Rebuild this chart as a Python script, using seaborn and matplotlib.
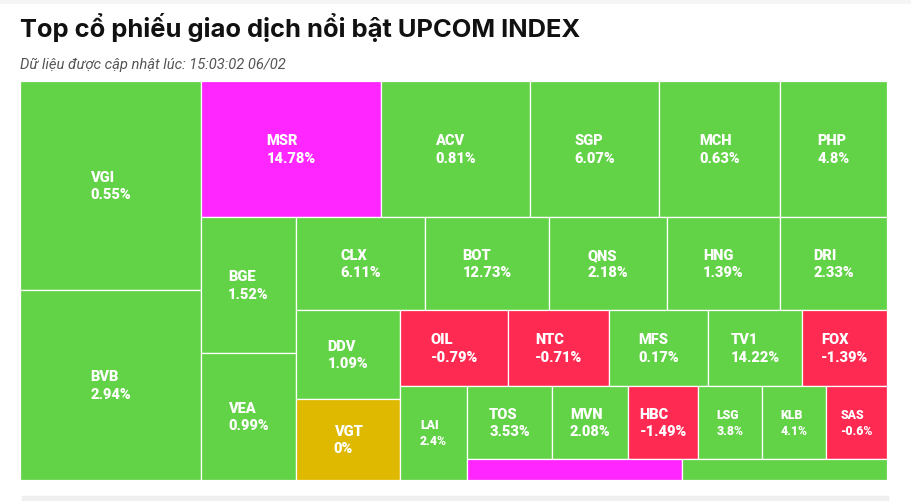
import matplotlib
matplotlib.use("Agg")
import matplotlib.pyplot as plt
from matplotlib.patches import Rectangle
import seaborn as sns

# Style
sns.set_theme(style="white")
plt.rcParams['font.family'] = ['Roboto', 'DejaVu Sans']

# Data (trading value weights)
tickers = ['VGI', 'BVB', 'MSR', 'ACV', 'SGP', 'MCH', 'PHP', 'BGE', 'VEA', 'CLX',
           'BOT', 'QNS', 'HNG', 'DRI', 'DDV', 'VGT', 'OIL', 'NTC', 'MFS', 'TV1',
           'FOX', 'LAI', 'TOS', 'MVN', 'HBC', 'LSG', 'KLB', 'SAS', '', '']
changes = [0.55, 2.94, 14.78, 0.81, 6.07, 0.63, 4.8, 1.52, 0.99, 6.11,
           12.73, 2.18, 1.39, 2.33, 1.09, 0, -0.79, -0.71, 0.17, 14.22,
           -1.39, 2.4, 3.53, 2.08, -1.49, 3.8, 4.1, -0.6, None, None]
states = ['up', 'up', 'ceil', 'up', 'up', 'up', 'up', 'up', 'up', 'up',
          'up', 'up', 'up', 'up', 'up', 'ref', 'down', 'down', 'up', 'up',
          'down', 'up', 'up', 'up', 'down', 'up', 'up', 'down', 'ceil', 'up']
values = [378.3, 343.9, 244.8, 202.6, 175.4, 164.6, 145.5, 129.2, 120.7, 120.0,
          115.3, 109.7, 105.1, 99.5, 92.6, 84.2, 82.1, 76.8, 75.2, 71.4,
          64.6, 63.0, 62.1, 55.5, 51.1, 46.7, 46.7, 44.5, 45.2, 43.1]

# how the treemap groups the boxes into strips
strip_sizes = [2, 5, 2, 5, 2, 5, 1, 6, 2]
strip_dirs = ['col', 'row', 'col', 'row', 'col', 'row', 'col', 'row', 'row']

state_colors = {'up': '#62D246', 'ceil': '#FF26FF', 'ref': '#DEB900', 'down': '#FF2A52'}


def strip_layout(vals, sizes, dirs, x0=0.0, y0=0.0, x1=1.0, y1=1.0):
    """Simple strip treemap: each strip takes its share of the remaining space."""
    rects = []
    i = 0
    remaining = sum(vals)
    for n, d in zip(sizes, dirs):
        chunk = vals[i:i + n]
        s = sum(chunk)
        if d == 'col':
            w = (x1 - x0) * s / remaining
            y = y0
            for v in chunk:
                h = (y1 - y0) * v / s
                rects.append((x0, y, w, h))
                y += h
            x0 += w
        else:
            h = (y1 - y0) * s / remaining
            x = x0
            for v in chunk:
                w = (x1 - x0) * v / s
                rects.append((x, y0, w, h))
                x += w
            y0 += h
        remaining -= s
        i += n
    return rects


W, H = 912, 502
fig = plt.figure(figsize=(W / 100, H / 100), dpi=100)
fig.patch.set_facecolor('white')

# card decoration
fig.patches.append(Rectangle((0, 1 - 4 / H), 1, 4 / H, transform=fig.transFigure,
                             color='#f5f5f5', zorder=0))
fig.patches.append(Rectangle((22 / W, 0), 866 / W, 5 / H, transform=fig.transFigure,
                             color='#efefef', zorder=0))

fig.text(20 / W, 1 - 37 / H, 'Top cổ phiếu giao dịch nổi bật UPCOM INDEX',
         fontsize=18.4, fontweight='bold', family=['Inter', 'DejaVu Sans'],
         color='#111111', va='baseline')
fig.text(20 / W, 1 - 69 / H, 'Dữ liệu được cập nhật lúc: 15:03:02 06/02',
         fontsize=10.6, style='italic', color='#555555', va='baseline')

box_w, box_h = 867, 399
ax = fig.add_axes([20 / W, 21 / H, box_w / W, box_h / H])
ax.set_xlim(0, 1)
ax.set_ylim(1, 0)
ax.axis('off')

rects = strip_layout(values, strip_sizes, strip_dirs)
for (x, y, w, h), name, chg, st in zip(rects, tickers, changes, states):
    ax.add_patch(Rectangle((x, y), w, h, facecolor=state_colors[st],
                           edgecolor='white', linewidth=0.9))
    if name and h * box_h >= 30:
        fs = 10.5 if w * box_w >= 68 else 8.8
        ax.text(x + w / 2, y + h / 2, f"{name}\n{chg:g}%", ha='center', va='center',
                multialignment='left', color='white', fontsize=fs,
                fontweight='heavy', linespacing=1.3)

fig.savefig('out.png', dpi=100)
